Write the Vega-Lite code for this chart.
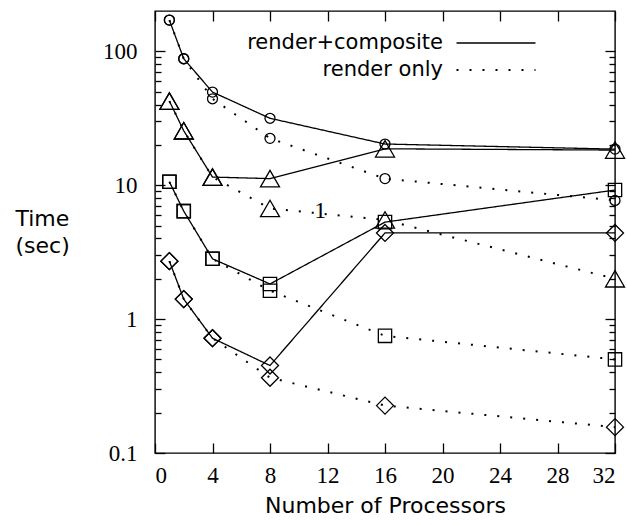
{
  "$schema": "https://vega.github.io/schema/vega-lite/v6.json",
  "width": 460,
  "height": 442,
  "autosize": {"type": "none"},
  "padding": {"left": 155, "top": 11, "right": 12, "bottom": 72},
  "background": "white",
  "config": {
    "view": {"stroke": "black", "strokeWidth": 1.4},
    "axis": {"domain": false, "grid": false, "tickColor": "black", "tickWidth": 1.3, "labelColor": "black", "titleColor": "black"},
    "legend": {
      "orient": "none", "legendX": 330, "legendY": 21,
      "title": null,
      "labelFont": "DejaVu Sans", "labelFontSize": 21, "labelColor": "black",
      "labelAlign": "right", "labelOffset": -64, "labelLimit": 400,
      "symbolType": "M-4,0H4", "symbolSize": 390, "symbolStrokeColor": "black",
      "rowPadding": 6
    }
  },
  "datasets": {
    "perf": [
      {"series": "A", "type": "render+composite", "procs": 1, "time": 171},
      {"series": "A", "type": "render+composite", "procs": 2, "time": 88},
      {"series": "A", "type": "render+composite", "procs": 4, "time": 49.6},
      {"series": "A", "type": "render+composite", "procs": 8, "time": 31.6},
      {"series": "A", "type": "render+composite", "procs": 16, "time": 20.3},
      {"series": "A", "type": "render+composite", "procs": 32, "time": 18.6},
      {"series": "A", "type": "render only", "procs": 1, "time": 171},
      {"series": "A", "type": "render only", "procs": 2, "time": 88},
      {"series": "A", "type": "render only", "procs": 4, "time": 44.2},
      {"series": "A", "type": "render only", "procs": 8, "time": 22.4},
      {"series": "A", "type": "render only", "procs": 16, "time": 11.2},
      {"series": "A", "type": "render only", "procs": 32, "time": 7.7},
      {"series": "B", "type": "render+composite", "procs": 1, "time": 42.5},
      {"series": "B", "type": "render+composite", "procs": 2, "time": 25.5},
      {"series": "B", "type": "render+composite", "procs": 4, "time": 11.5},
      {"series": "B", "type": "render+composite", "procs": 8, "time": 11.2},
      {"series": "B", "type": "render+composite", "procs": 16, "time": 18.7},
      {"series": "B", "type": "render+composite", "procs": 32, "time": 18.3},
      {"series": "B", "type": "render only", "procs": 1, "time": 42.5},
      {"series": "B", "type": "render only", "procs": 2, "time": 25.5},
      {"series": "B", "type": "render only", "procs": 4, "time": 11.5},
      {"series": "B", "type": "render only", "procs": 8, "time": 6.7},
      {"series": "B", "type": "render only", "procs": 16, "time": 5.5},
      {"series": "B", "type": "render only", "procs": 32, "time": 2.0},
      {"series": "C", "type": "render+composite", "procs": 1, "time": 10.6},
      {"series": "C", "type": "render+composite", "procs": 2, "time": 6.4},
      {"series": "C", "type": "render+composite", "procs": 4, "time": 2.82},
      {"series": "C", "type": "render+composite", "procs": 8, "time": 1.83},
      {"series": "C", "type": "render+composite", "procs": 16, "time": 5.3},
      {"series": "C", "type": "render+composite", "procs": 32, "time": 9.2},
      {"series": "C", "type": "render only", "procs": 1, "time": 10.6},
      {"series": "C", "type": "render only", "procs": 2, "time": 6.4},
      {"series": "C", "type": "render only", "procs": 4, "time": 2.82},
      {"series": "C", "type": "render only", "procs": 8, "time": 1.63},
      {"series": "C", "type": "render only", "procs": 16, "time": 0.75},
      {"series": "C", "type": "render only", "procs": 32, "time": 0.5},
      {"series": "D", "type": "render+composite", "procs": 1, "time": 2.71},
      {"series": "D", "type": "render+composite", "procs": 2, "time": 1.41},
      {"series": "D", "type": "render+composite", "procs": 4, "time": 0.72},
      {"series": "D", "type": "render+composite", "procs": 8, "time": 0.45},
      {"series": "D", "type": "render+composite", "procs": 16, "time": 4.4},
      {"series": "D", "type": "render+composite", "procs": 32, "time": 4.4},
      {"series": "D", "type": "render only", "procs": 1, "time": 2.71},
      {"series": "D", "type": "render only", "procs": 2, "time": 1.41},
      {"series": "D", "type": "render only", "procs": 4, "time": 0.72},
      {"series": "D", "type": "render only", "procs": 8, "time": 0.365},
      {"series": "D", "type": "render only", "procs": 16, "time": 0.226},
      {"series": "D", "type": "render only", "procs": 32, "time": 0.156}
    ],
    "note": [{"procs": 11.5, "time": 5.7, "text": "1"}]
  },
  "data": {"name": "perf"},
  "layer": [
    {
      "mark": {"type": "line", "color": "black", "strokeCap": "butt"},
      "encoding": {
        "x": {
          "field": "procs", "type": "quantitative",
          "scale": {"domain": [0, 32], "nice": false, "zero": false},
          "axis": {
            "orient": "bottom", "values": [0, 4, 8, 12, 16, 20, 24, 28, 32],
            "tickSize": -10, "labelPadding": 21,
            "labelFont": "Liberation Serif", "labelFontSize": 23,
            "title": "Number of Processors", "titleFont": "DejaVu Sans", "titleFontSize": 22,
            "titleFontWeight": "normal", "titlePadding": 8
          }
        },
        "y": {
          "field": "time", "type": "quantitative",
          "scale": {"type": "log", "domain": [0.1, 200], "nice": false},
          "axis": {
            "orient": "left",
            "values": [0.1, 0.2, 0.3, 0.4, 0.5, 0.6, 0.7, 0.8, 0.9, 1, 2, 3, 4, 5, 6, 7, 8, 9, 10, 20, 30, 40, 50, 60, 70, 80, 90, 100],
            "format": "~g",
            "labelExpr": "(datum.value == 0.1 || datum.value == 1 || datum.value == 10 || datum.value == 100) ? datum.label : ''",
            "tickSize": {"condition": {"test": "datum.value == 0.1 || datum.value == 1 || datum.value == 10 || datum.value == 100", "value": -10}, "value": -6},
            "labelPadding": 28,
            "labelFont": "Liberation Serif", "labelFontSize": 23,
            "title": ["Time", "(sec)"], "titleFont": "DejaVu Sans", "titleFontSize": 22,
            "titleFontWeight": "normal", "titleAngle": 0, "titleAlign": "left",
            "titleBaseline": "alphabetic", "titleX": -140, "titleY": 214, "titleLineHeight": 27
          }
        },
        "detail": {"field": "series"},
        "strokeDash": {
          "field": "type", "type": "nominal",
          "scale": {"domain": ["render+composite", "render only"], "range": [[1, 0], [2, 11]]}
        },
        "strokeWidth": {
          "field": "type", "type": "nominal",
          "scale": {"domain": ["render+composite", "render only"], "range": [1.3, 2]}
        }
      }
    },
    {
      "mark": {"type": "point", "filled": false, "color": "black", "strokeWidth": 1.3, "opacity": 1},
      "encoding": {
        "x": {
          "field": "procs", "type": "quantitative",
          "axis": {"orient": "top", "values": [0, 4, 8, 12, 16, 20, 24, 28, 32], "tickSize": -10, "labels": false, "title": null}
        },
        "y": {
          "field": "time", "type": "quantitative",
          "axis": {
            "orient": "right",
            "values": [0.1, 0.2, 0.3, 0.4, 0.5, 0.6, 0.7, 0.8, 0.9, 1, 2, 3, 4, 5, 6, 7, 8, 9, 10, 20, 30, 40, 50, 60, 70, 80, 90, 100],
            "tickSize": {"condition": {"test": "datum.value == 0.1 || datum.value == 1 || datum.value == 10 || datum.value == 100", "value": -10}, "value": -6},
            "labels": false, "title": null
          }
        },
        "shape": {
          "field": "series", "type": "nominal",
          "scale": {"domain": ["A", "B", "C", "D"], "range": ["circle", "triangle-up", "square", "diamond"]},
          "legend": null
        },
        "size": {
          "field": "series", "type": "nominal",
          "scale": {"type": "ordinal", "domain": ["A", "B", "C", "D"], "range": [100, 361, 177, 289]},
          "legend": null
        }
      }
    },
    {
      "data": {"name": "note"},
      "mark": {"type": "text", "font": "Liberation Serif", "fontSize": 24, "baseline": "alphabetic", "align": "center", "color": "black"},
      "encoding": {
        "x": {"field": "procs", "type": "quantitative", "axis": null},
        "y": {"field": "time", "type": "quantitative", "axis": null},
        "text": {"field": "text"}
      }
    }
  ],
  "resolve": {"axis": {"x": "independent", "y": "independent"}}
}
